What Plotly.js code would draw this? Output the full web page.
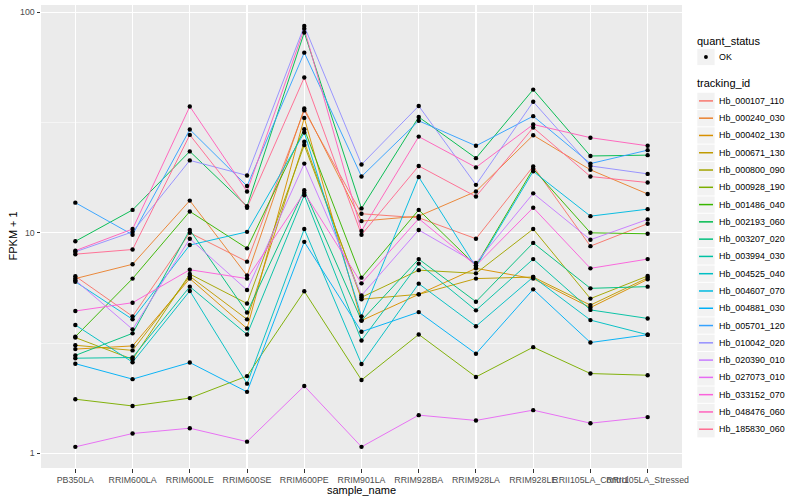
<!DOCTYPE html>
<html>
<head>
<meta charset="utf-8">
<script src="https://cdn.plot.ly/plotly-3.0.1.min.js"></script>
<style>html,body{margin:0;padding:0;background:#fff;}#chart{width:800px;height:500px;}</style>
</head>
<body>
<div id="chart"></div>
<script>
const samples = ["PB350LA","RRIM600LA","RRIM600LE","RRIM600SE","RRIM600PE","RRIM901LA","RRIM928BA","RRIM928LA","RRIM928LE","RRII105LA_Control","RRII105LA_Stressed"];
const trackingIds = ["Hb_000107_110","Hb_000240_030","Hb_000402_130","Hb_000671_130","Hb_000800_090","Hb_000928_190","Hb_001486_040","Hb_002193_060","Hb_003207_020","Hb_003994_030","Hb_004525_040","Hb_004607_070","Hb_004881_030","Hb_005701_120","Hb_010042_020","Hb_020390_010","Hb_027073_010","Hb_033152_070","Hb_048476_060","Hb_185830_060"];
const colors = ["#F8766D","#EA8331","#D89000","#C09B00","#A3A500","#7CAE00","#39B600","#00BB4E","#00BF7D","#00C1A3","#00BFC4","#00BAE0","#00B0F6","#35A2FF","#9590FF","#C77CFF","#E76BF3","#FA62DB","#FF62BC","#FF6C91"];
const yTickVals = [1, 10, 100];
const yTickText = ["1", "10", "100"];

// FPKM + 1 values per tracking id, in sample order
const hb_000107_110 = [6.36, 4.18, 10.0, 7.4, 35.9, 12.2, 11.7, 9.4, 20.0, 8.7, 11.0];
const hb_000240_030 = [6.2, 7.2, 14.0, 6.4, 36.6, 11.3, 11.9, 15.4, 27.7, 19.3, 15.0];
const hb_000402_130 = [2.97, 3.07, 6.2, 3.68, 33.2, 4.0, 5.26, 6.9, 6.2, 4.58, 6.15];
const hb_000671_130 = [3.09, 2.93, 6.35, 4.05, 25.9, 5.0, 5.26, 6.2, 6.3, 4.7, 6.25];
const hb_000800_090 = [3.35, 2.67, 6.5, 4.78, 25.0, 5.1, 6.77, 6.55, 10.4, 5.03, 6.37];
const hb_000928_190 = [1.76, 1.64, 1.78, 2.24, 5.43, 2.15, 3.46, 2.22, 3.03, 2.30, 2.26];
const hb_001486_040 = [3.38, 6.2, 12.5, 8.5, 29.5, 6.26, 12.7, 7.1, 19.5, 10.0, 9.9];
const hb_002193_060 = [9.15, 12.7, 23.4, 13.2, 81.0, 12.9, 33.5, 21.8, 44.6, 22.3, 22.5];
const hb_003207_020 = [2.78, 3.5, 10.3, 4.35, 15.6, 4.0, 7.6, 4.87, 9.0, 5.6, 5.7];
const hb_003994_030 = [2.70, 2.72, 5.7, 3.46, 14.8, 3.25, 7.25, 4.45, 7.6, 4.47, 4.09];
const hb_004525_040 = [3.82, 2.59, 5.45, 2.07, 10.4, 2.54, 5.88, 3.77, 6.3, 4.02, 3.45];
const hb_004607_070 = [6.0, 4.05, 8.8, 10.1, 28.5, 4.18, 17.9, 7.0, 19.0, 11.9, 12.8];
const hb_004881_030 = [2.55, 2.17, 2.58, 1.90, 9.1, 3.56, 4.37, 2.83, 5.54, 3.18, 3.45];
const hb_005701_120 = [13.7, 9.8, 29.4, 16.3, 65.6, 18.0, 32.2, 24.8, 33.8, 20.6, 23.7];
const hb_010042_020 = [8.2, 10.1, 21.3, 18.2, 86.6, 20.4, 37.6, 16.5, 39.3, 20.1, 18.5];
const hb_020390_010 = [6.1, 3.65, 9.4, 5.5, 20.6, 5.2, 10.3, 7.3, 15.1, 9.3, 11.5];
const hb_027073_010 = [1.07, 1.23, 1.30, 1.13, 2.02, 1.07, 1.49, 1.41, 1.57, 1.37, 1.46];
const hb_033152_070 = [4.42, 4.82, 6.8, 6.2, 15.2, 5.9, 11.6, 7.1, 13.0, 6.9, 7.6];
const hb_048476_060 = [8.3, 10.4, 37.4, 15.4, 84.2, 10.2, 27.3, 19.8, 31.0, 27.0, 24.8];
const hb_185830_060 = [8.0, 8.4, 27.8, 13.0, 50.6, 9.8, 20.1, 14.6, 30.0, 18.0, 16.9];

const seriesValues = [hb_000107_110,hb_000240_030,hb_000402_130,hb_000671_130,hb_000800_090,hb_000928_190,hb_001486_040,hb_002193_060,hb_003207_020,hb_003994_030,hb_004525_040,hb_004607_070,hb_004881_030,hb_005701_120,hb_010042_020,hb_020390_010,hb_027073_010,hb_033152_070,hb_048476_060,hb_185830_060];

const font = "Liberation Sans, Arial, Helvetica, sans-serif";
const W = 800, H = 500;
const M = {l: 41, r: 118, t: 5, b: 32};
const PW = W - M.l - M.r, PH = H - M.t - M.b;
const pxX = p => (p - M.l) / PW;          // pixel x -> paper x
const pxY = p => (H - M.b - p) / PH;      // pixel y -> paper y

const traces = [];
trackingIds.forEach((id, k) => {
  traces.push({
    type: 'scatter', mode: 'lines', name: id,
    x: samples, y: seriesValues[k],
    line: {color: colors[k], width: 0.95},
    showlegend: false, hoverinfo: 'name+y'
  });
});
const px = [], py = [];
seriesValues.forEach(v => v.forEach((val, i) => { px.push(samples[i]); py.push(val); }));
traces.push({
  type: 'scatter', mode: 'markers', name: 'OK',
  x: px, y: py, marker: {color: '#000', size: 4.4}, showlegend: false
});

// custom ggplot-style legend
const shapes = [], annotations = [];
const keyL = 697.3, keyR = 714.6, keyH = 17.28;
function keyBox(cy) {
  shapes.push({type: 'rect', xref: 'paper', yref: 'paper', x0: pxX(keyL), x1: pxX(keyR),
    y0: pxY(cy + keyH / 2 - 0.5), y1: pxY(cy - keyH / 2 + 0.5), fillcolor: '#F2F2F2', line: {width: 0}, layer: 'above'});
}
function label(text, x, cy, size) {
  annotations.push({xref: 'paper', yref: 'paper', x: pxX(x), y: pxY(cy), xanchor: 'left', yanchor: 'middle',
    text: text, showarrow: false, font: {size: size, color: '#000', family: font}});
}
label('quant_status', 695, 40.7, 11);
keyBox(57.0);
shapes.push({type: 'circle', xref: 'paper', yref: 'paper', x0: pxX(704.0), x1: pxX(707.9), y0: pxY(59.0), y1: pxY(55.1),
  fillcolor: '#000', line: {width: 0}, layer: 'above'});
label('OK', 716.5, 57.0, 8.9);
label('tracking_id', 695, 83.3, 11);
trackingIds.forEach((id, k) => {
  const cy = 100.9 + keyH * k;
  keyBox(cy);
  shapes.push({type: 'line', xref: 'paper', yref: 'paper', x0: pxX(699), x1: pxX(713), y0: pxY(cy), y1: pxY(cy),
    line: {color: colors[k], width: 1.5}, layer: 'above'});
  label(id, 716.5, cy, 8.9);
});
// axis titles
annotations.push({xref: 'paper', yref: 'paper', x: 0.5, y: pxY(490), xanchor: 'center', yanchor: 'middle',
  text: 'sample_name', showarrow: false, font: {size: 11, color: '#000', family: font}});
annotations.push({xref: 'paper', yref: 'paper', x: pxX(12), y: 0.5, xanchor: 'center', yanchor: 'middle', textangle: -90,
  text: 'FPKM + 1', showarrow: false, font: {size: 11, color: '#000', family: font}});

const layout = {
  width: W, height: H, margin: M,
  paper_bgcolor: '#fff', plot_bgcolor: '#EBEBEB',
  font: {family: font, size: 9, color: '#4D4D4D'},
  showlegend: false, shapes: shapes, annotations: annotations,
  xaxis: {
    type: 'category', range: [-0.6, 10.6], tickangle: 0,
    showgrid: true, gridcolor: '#fff', gridwidth: 1.1, zeroline: false,
    ticks: 'outside', ticklen: 3.5, tickcolor: '#333333', tickwidth: 1,
    tickfont: {size: 8.8, color: '#4D4D4D'}, showline: false, automargin: false
  },
  yaxis: {
    type: 'log', range: [-0.0665, 2.033],
    tickmode: 'array', tickvals: yTickVals, ticktext: yTickText,
    showgrid: true, gridcolor: '#fff', gridwidth: 1.1, zeroline: false,
    ticks: 'outside', ticklen: 3.5, tickcolor: '#333333', tickwidth: 1,
    tickfont: {size: 8.8, color: '#4D4D4D'},
    minor: {tickmode: 'array', tickvals: [3.1623, 31.623], showgrid: true, gridcolor: '#fff', gridwidth: 0.5, ticks: ''},
    automargin: false
  }
};

Plotly.newPlot('chart', traces, layout, {displayModeBar: false, staticPlot: true});
</script>
</body>
</html>
